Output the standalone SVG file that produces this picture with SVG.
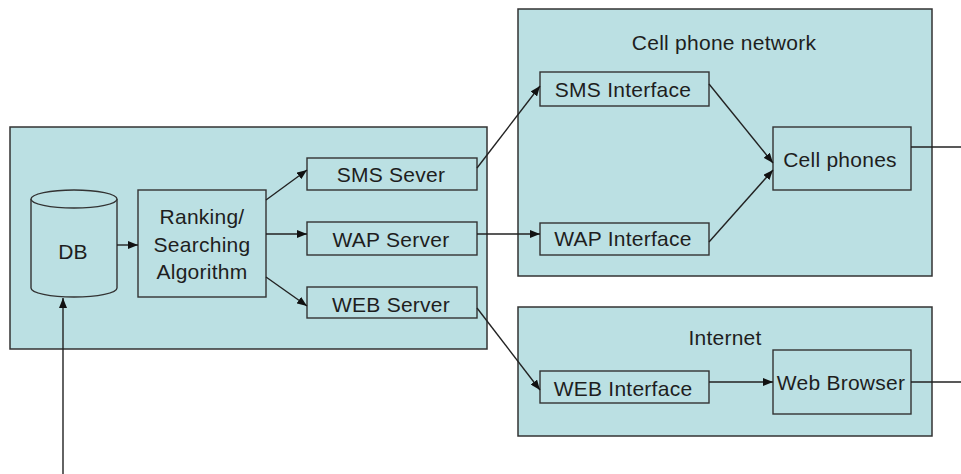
<svg xmlns="http://www.w3.org/2000/svg" width="961" height="474" viewBox="0 0 961 474">
<defs>
<style>
.cont{fill:#bbe0e3;stroke:#333333;stroke-width:1.5}
.box{fill:#bbe0e3;stroke:#333333;stroke-width:1.4}
.lbl{font-family:"Liberation Sans",Arial,sans-serif;font-size:21px;fill:#1e1e1e;text-anchor:middle;letter-spacing:0.25px}
.con{fill:none;stroke:#222;stroke-width:1.4}
</style>
<marker id="ah" viewBox="0 0 10 8" refX="10" refY="4" markerWidth="10" markerHeight="8" markerUnits="userSpaceOnUse" orient="auto">
<path d="M0,0 L10,4 L0,8 z" fill="#111"/>
</marker>
</defs>
<rect width="961" height="474" fill="#ffffff"/>
<g id="server-side">
<rect class="cont" x="10" y="127" width="477" height="222"/>
</g>
<g id="cell-phone-network">
<rect class="cont" x="518" y="9" width="414" height="267"/>
<text class="lbl" x="724" y="50">Cell phone network</text>
</g>
<g id="internet">
<rect class="cont" x="518" y="307" width="414" height="129"/>
<text class="lbl" x="725" y="345">Internet</text>
</g>
<g id="db">
<path class="box" d="M31,199 L31,288 A43,9 0 0 0 117,288 L117,199 A43,9 0 0 0 31,199 Z"/>
<path class="box" d="M31,199 A43,9 0 0 0 117,199"/>
<text class="lbl" x="73" y="259">DB</text>
</g>
<g id="ranking">
<rect class="box" x="138" y="190" width="128" height="107"/>
<text class="lbl" x="202" y="224">Ranking/</text>
<text class="lbl" x="202" y="251.5">Searching</text>
<text class="lbl" x="202" y="279">Algorithm</text>
</g>
<g id="sms-server">
<rect class="box" x="307" y="158" width="170" height="32"/>
<text class="lbl" x="391" y="182">SMS Sever</text>
</g>
<g id="wap-server">
<rect class="box" x="307" y="222" width="170" height="33"/>
<text class="lbl" x="391" y="246.5">WAP Server</text>
</g>
<g id="web-server">
<rect class="box" x="307" y="287" width="170" height="31"/>
<text class="lbl" x="391" y="311.5">WEB Server</text>
</g>
<g id="sms-interface">
<rect class="box" x="540" y="72" width="169" height="34"/>
<text class="lbl" x="623" y="96.5">SMS Interface</text>
</g>
<g id="wap-interface">
<rect class="box" x="540" y="223" width="169" height="32"/>
<text class="lbl" x="623" y="246">WAP Interface</text>
</g>
<g id="cell-phones">
<rect class="box" x="773" y="127" width="138" height="63"/>
<text class="lbl" x="840" y="166.5">Cell phones</text>
</g>
<g id="web-interface">
<rect class="box" x="540" y="371" width="169" height="32"/>
<text class="lbl" x="623" y="395.5">WEB Interface</text>
</g>
<g id="web-browser">
<rect class="box" x="773" y="350" width="138" height="64"/>
<text class="lbl" x="841" y="390">Web Browser</text>
</g>
<g id="connectors">
<line class="con" x1="63" y1="474" x2="63" y2="298" marker-end="url(#ah)"/>
<line class="con" x1="117" y1="245" x2="138" y2="245" marker-end="url(#ah)"/>
<line class="con" x1="266" y1="200" x2="307" y2="170" marker-end="url(#ah)"/>
<line class="con" x1="266" y1="234" x2="307" y2="234" marker-end="url(#ah)"/>
<line class="con" x1="266" y1="277" x2="307" y2="306" marker-end="url(#ah)"/>
<line class="con" x1="477" y1="168" x2="540" y2="86" marker-end="url(#ah)"/>
<line class="con" x1="477" y1="234" x2="540" y2="234" marker-end="url(#ah)"/>
<line class="con" x1="477" y1="308" x2="540" y2="390" marker-end="url(#ah)"/>
<line class="con" x1="709" y1="84" x2="773" y2="163" marker-end="url(#ah)"/>
<line class="con" x1="709" y1="242" x2="773" y2="170" marker-end="url(#ah)"/>
<line class="con" x1="709" y1="382" x2="773" y2="382" marker-end="url(#ah)"/>
<line class="con" x1="911" y1="147" x2="961" y2="147"/>
<line class="con" x1="911" y1="382" x2="961" y2="382"/>
</g>
</svg>
